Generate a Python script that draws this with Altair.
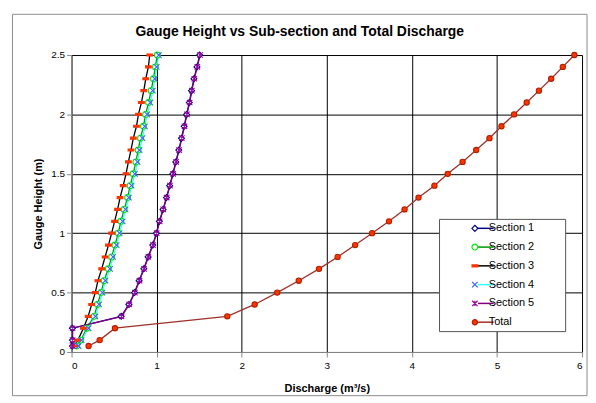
import altair as alt
import pandas as pd

# ---------------- data ----------------
heights = [0.05, 0.1, 0.2, 0.3, 0.4, 0.5, 0.6, 0.7, 0.8, 0.9, 1.0, 1.1, 1.2,
           1.3, 1.4, 1.5, 1.6, 1.7, 1.8, 1.9, 2.0, 2.1, 2.2, 2.3, 2.4, 2.5]

section1 = [0.01, 0.01, 0.01, 0.584, 0.674, 0.74, 0.794, 0.849, 0.90, 0.954,
            0.997, 1.032, 1.075, 1.115, 1.153, 1.19, 1.225, 1.26, 1.292, 1.323,
            1.352, 1.384, 1.41, 1.438, 1.474, 1.505]
section2 = [0.062, 0.109, 0.179, 0.265, 0.304, 0.347, 0.382, 0.432, 0.471, 0.51,
            0.549, 0.58, 0.619, 0.658, 0.689, 0.724, 0.756, 0.783, 0.81, 0.845,
            0.87, 0.905, 0.935, 0.962, 0.985, 1.008]
section3 = [0.035, 0.074, 0.14, 0.195, 0.236, 0.279, 0.31, 0.354, 0.394, 0.434,
            0.471, 0.506, 0.541, 0.57, 0.607, 0.64, 0.668, 0.698, 0.726, 0.763,
            0.786, 0.821, 0.849, 0.872, 0.903, 0.919]
section4 = [0.082, 0.117, 0.199, 0.28, 0.323, 0.362, 0.397, 0.452, 0.487, 0.529,
            0.564, 0.60, 0.634, 0.674, 0.705, 0.744, 0.775, 0.798, 0.833, 0.861,
            0.888, 0.925, 0.954, 0.978, 1.0, 1.025]
section5 = [0.012, 0.012, 0.012, 0.588, 0.678, 0.744, 0.798, 0.852, 0.903, 0.957,
            1.0, 1.036, 1.078, 1.119, 1.157, 1.194, 1.229, 1.264, 1.296, 1.327,
            1.356, 1.388, 1.414, 1.442, 1.478, 1.51]
total = [0.2, 0.33, 0.51, 1.83, 2.152, 2.417, 2.67, 2.908, 3.127, 3.333,
         3.532, 3.731, 3.914, 4.078, 4.265, 4.421, 4.596, 4.756, 4.912, 5.053,
         5.201, 5.349, 5.493, 5.637, 5.774, 5.91]

series_names = ["Section 1", "Section 2", "Section 3", "Section 4", "Section 5", "Total"]
series_values = [section1, section2, section3, section4, section5, total]

line_colors = ["#000080", "#009900", "#000000", "#33ffff", "#800080", "#a0302a"]
marker_stroke = ["#000080", "#00ee00", "#ff3300", "#3366ff", "#a000a0", "#b02000"]
marker_fill = ["#ffffff", "#ffffff", "#ff3300", "transparent", "transparent", "#ff3300"]
marker_shapes = [
    "diamond",
    "circle",
    "M-1,-0.36L1,-0.36L1,0.36L-1,0.36Z",
    "M-1,-1L1,1M-1,1L1,-1",
    "M-1,-1L1,1M-1,1L1,-1M0,-1L0,1",
    "circle",
]
marker_sizes = [36, 28, 49, 30, 30, 45]

x_ticks = [0, 1, 2, 3, 4, 5, 6]
y_ticks = [0, 0.5, 1, 1.5, 2, 2.5]

rows = []
for name, vals in zip(series_names, series_values):
    for h, q in zip(heights, vals):
        rows.append({"Series": name, "Line": name, "Height": h, "Discharge": q})
df = pd.DataFrame(rows)

FONT = "Liberation Sans"
W, H = 514, 299

grid_kw = dict(grid=True, gridColor="#000000", gridOpacity=1, gridWidth=1)
x_enc = alt.X("Discharge:Q", scale=alt.Scale(domain=[0, 6], nice=False),
              axis=alt.Axis(values=x_ticks, format="~g", title="Discharge (m³/s)",
                            titlePadding=12, labelPadding=4, tickSize=5, **grid_kw))
y_enc = alt.Y("Height:Q", scale=alt.Scale(domain=[0, 2.5], nice=False),
              axis=alt.Axis(values=y_ticks, format="~g", title="Gauge Height (m)",
                            titlePadding=7, labelPadding=2, tickSize=5, **grid_kw))

LEG_X, LEG_Y = 370, 165
legend_common = dict(orient="none", legendY=LEG_Y,
                     labelFont=FONT, labelFontSize=11, rowPadding=6.9, padding=4)

border = alt.Chart(pd.DataFrame({"b": [0]})).mark_rect(
    fill="transparent", stroke="#8c8c8c", strokeWidth=1
).encode(x=alt.value(-59.5), x2=alt.value(519), y=alt.value(-41), y2=alt.value(343))

# line legend (box + line samples + labels)
line_legend = alt.Legend(
    title=" ", titleOrient="right", titlePadding=27, titleFontSize=11,
    symbolType="M-1.5,0L3.0,0", symbolSize=49, symbolStrokeWidth=1.5,
    symbolOffset=35, labelOffset=0,
    strokeColor="#555555", fillColor="white", zindex=1, legendX=LEG_X,
    **legend_common)
lines = alt.Chart(df).mark_line(strokeWidth=1.3).encode(
    x=x_enc, y=y_enc,
    order=alt.Order("Height:Q"),
    stroke=alt.Stroke("Line:N", scale=alt.Scale(range=line_colors), legend=line_legend),
)

# marker legend drawn on top of the line samples
pt_legend = alt.Legend(title=None, labelExpr="' '", symbolSize=42,
                       symbolStrokeWidth=1.2, zindex=2, legendX=LEG_X + 26.6,
                       **legend_common)
points = alt.Chart(df).mark_point(filled=False, opacity=1, strokeWidth=1.1).encode(
    x="Discharge:Q", y="Height:Q",
    shape=alt.Shape("Series:N", scale=alt.Scale(domain=series_names, range=marker_shapes),
                    legend=pt_legend),
    color=alt.Color("Series:N", scale=alt.Scale(domain=series_names, range=marker_stroke),
                    legend=pt_legend),
    fill=alt.Fill("Series:N", scale=alt.Scale(domain=series_names, range=marker_fill),
                  legend=pt_legend),
    size=alt.Size("Series:N", scale=alt.Scale(domain=series_names, range=marker_sizes),
                  legend=None),
)

chart = alt.layer(border, lines, points).properties(
    width=W, height=H,
    padding={"left": 4, "top": 4, "right": 0, "bottom": 0},
    title=alt.Title("Gauge Height vs Sub-section and Total Discharge",
                    font=FONT, fontSize=14, fontWeight="bold", color="#000000",
                    anchor="middle", frame="bounds", offset=-39, baseline="bottom"),
).configure_view(stroke="#000000", strokeWidth=1.2).configure_axis(
    labelFont=FONT, labelFontSize=11, labelColor="#000000",
    titleFont=FONT, titleFontSize=11, titleFontWeight="bold", titleColor="#000000",
    domainColor="#000000", tickColor="#000000", domainWidth=1.2,
).configure(background="white")

chart.save("out.html", embed_options={"renderer": "svg", "actions": False})
